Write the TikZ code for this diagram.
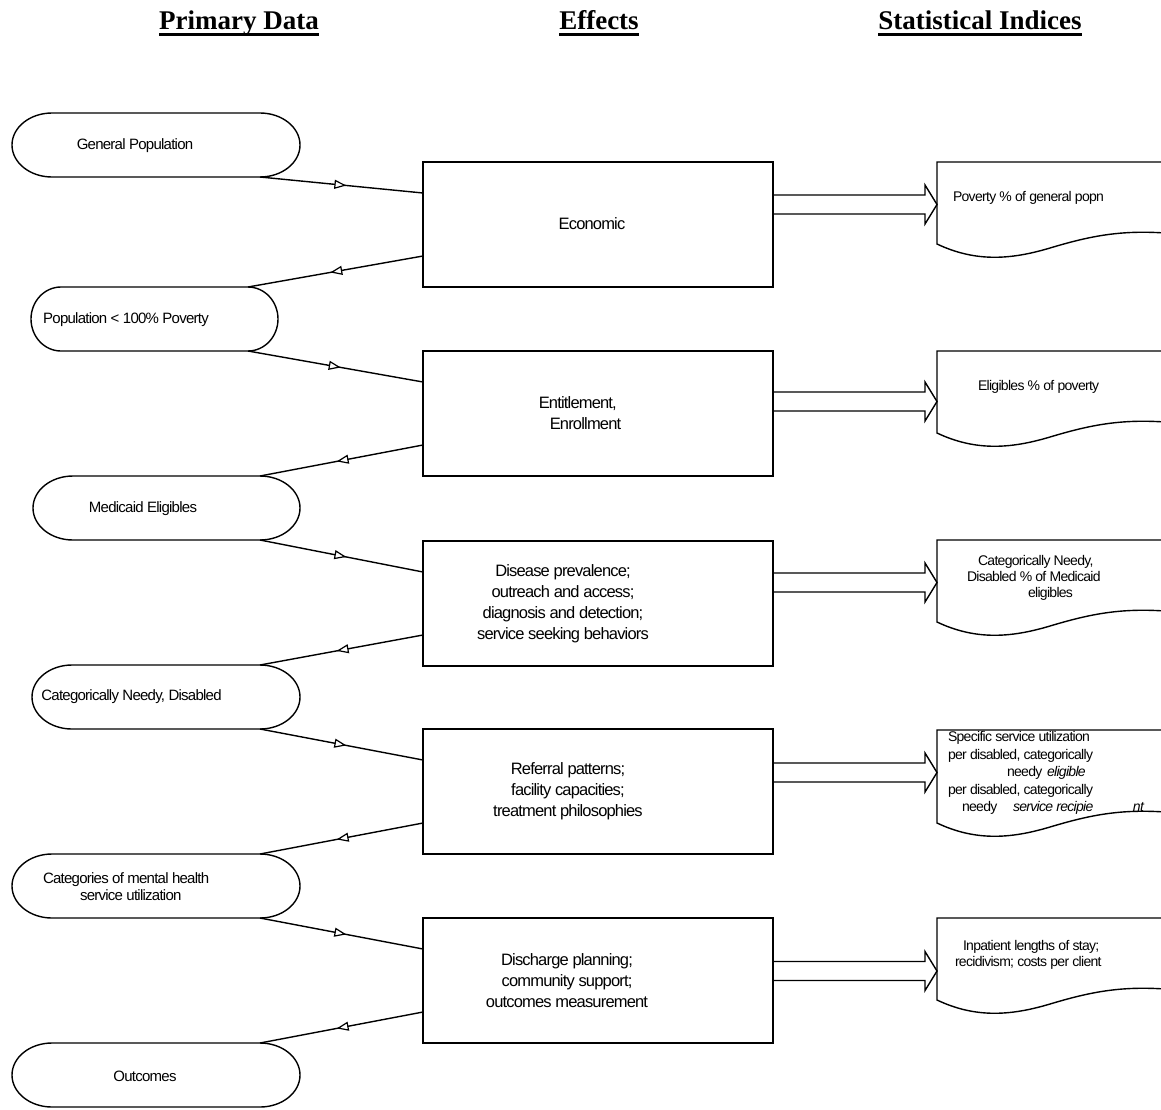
\documentclass[tikz,border=0pt]{standalone}
\usepackage{fontspec}
\setmainfont{Liberation Serif}
\newfontfamily\labelfont[LetterSpace=-5]{Liberation Sans}
\usetikzlibrary{arrows.meta,decorations.markings,calc}
\begin{document}
\begin{tikzpicture}[x=1pt,y=-1pt,
  every node/.style={inner sep=0pt,outer sep=0pt},
  outline/.style={line width=1.4pt,line join=miter},
  heading/.style={font=\fontsize{27}{30}\selectfont\bfseries,anchor=base},
  term/.style={anchor=north west,minimum height=64pt},
  effect/.style={anchor=north west,minimum width=350pt,minimum height=125pt,draw,line width=1.4pt},
  doc/.style={anchor=north west,minimum width=260pt,minimum height=82pt},
  lab/.style={font=\labelfont\fontsize{15}{17}\selectfont},
  boxtext/.style={font=\labelfont\fontsize{16.5}{21}\selectfont,align=center},
  doctext/.style={font=\labelfont\fontsize{14}{16}\selectfont,align=left,anchor=west},
  conn/.style={line width=1.4pt,postaction=decorate,
    decoration={markings,mark=at position 0.53 with
      {\arrow{Triangle[length=12pt,width=9pt,fill=white,line width=1.2pt]}}}}]

\useasboundingbox (0,0) rectangle (1161,1109);
\fill[white] (0,0) rectangle (1161,1109);
\clip (0,0) rectangle (1161,1109);

% column headings
\node[heading] (h1) at (239,29) {Primary Data};
\node[heading] (h2) at (599,29) {Effects};
\node[heading] (h3) at (980,29) {Statistical Indices};
\foreach \h in {h1,h2,h3}
  \draw[line width=3pt] ($(\h.base west)+(0,5)$) -- ($(\h.base east)+(0,5)$);

% primary data terminators
\node[term,minimum width=288pt] (s1) at (12,113) {};
\node[term,minimum width=247pt] (s2) at (31,287) {};
\node[term,minimum width=267pt] (s3) at (33,476) {};
\node[term,minimum width=268pt] (s4) at (32,665) {};
\node[term,minimum width=288pt] (s5) at (12,854) {};
\node[term,minimum width=288pt] (s6) at (12,1043) {};
\foreach \s/\rr in {s1/40pt,s2/30pt,s3/40pt,s4/40pt,s5/40pt,s6/40pt}
  \draw[outline] let \p1=(\s.north west), \p2=(\s.south east), \n1={(\y1-\y2)/2} in
    (\x1+\rr,\y1) -- (\x2-\rr,\y1) coordinate (\s-ne)
    arc[start angle=90,end angle=-90,x radius=\rr,y radius=\n1] coordinate (\s-se)
    -- (\x1+\rr,\y2)
    arc[start angle=270,end angle=90,x radius=\rr,y radius=\n1] -- cycle;

\node[lab] (t1) at (135,146) {General Population};
\node[lab] (t2) at (126,320) {Population < 100\% Poverty};
\node[lab] (t3) at (143,509) {Medicaid Eligibles};
\node[lab] (t4) at (131.5,697) {Categorically Needy, Disabled};
\node[lab,align=left,anchor=west] (t5) at (43,886.5)
  {Categories of mental health\\\hspace*{37pt}service utilization};
\node[lab] (t6) at (145,1076) {Outcomes};

% effect boxes
\node[effect] (econ) at (423,162) {};
\node[effect] (ent) at (423,351) {};
\node[effect] (dis) at (423,541) {};
\node[effect] (ref) at (423,729) {};
\node[effect] (dsc) at (423,918) {};

\node[boxtext] (et) at (592,224) {Economic};
\node[boxtext,align=left] (nt) at (580,413) {Entitlement,\\\hspace*{11pt}Enrollment};
\node[boxtext] (dt) at (563,603.5)
  {Disease prevalence;\\outreach and access;\\diagnosis and detection;\\service seeking behaviors};
\node[boxtext] (rt) at (568,791.5)
  {Referral patterns;\\facility capacities;\\treatment philosophies};
\node[boxtext] (ct) at (567,981)
  {Discharge planning;\\community support;\\outcomes measurement};

% statistical index documents
\node[doc] (d1) at (937,162) {};
\node[doc] (d2) at (937,351) {};
\node[doc] (d3) at (937,540) {};
\node[doc,minimum height=93pt] (d4) at (937,730) {};
\node[doc] (d5) at (937,918) {};
\foreach \dc in {d1,d2,d3,d4,d5}
  \draw[outline] let \p1=(\dc.north west), \p2=(\dc.south west) in
    (\x1+300pt,\y1) -- (\x1,\y1) -- (\x2,\y2)
    .. controls (\x2+38pt,\y2-18pt) and (\x2+73pt,\y2-16pt) .. (\x2+113pt,\y2-4pt)
    .. controls (\x2+153pt,\y2+8pt) and (\x2+183pt,\y2+14pt) .. (\x2+228pt,\y2+11pt)
    -- (\x2+300pt,\y2+11pt);

\node[doctext] (p1) at (953,198) {Poverty \% of general popn};
\node[doctext] (p2) at (978,387) {Eligibles \% of poverty};
\node[doctext] (p3) at (967,577.5)
  {\hspace*{11pt}Categorically Needy,\\Disabled \% of Medicaid\\\hspace*{61pt}eligibles};
\node[doctext,font=\labelfont\fontsize{14}{17.5}\selectfont] (p4) at (948,773)
  {Specific service utilization\\per disabled, categorically\\
   \hspace*{59pt}\rlap{needy}\hspace*{40pt}\textit{eligible}\\
   per disabled, categorically\\
   \hspace*{14pt}\rlap{needy}\hspace*{51pt}\rlap{\textit{service recipie}}\hspace*{120pt}\textit{nt}};
\node[doctext] (p5) at (955,955)
  {\hspace*{8pt}Inpatient lengths of stay;\\recidivism; costs per client};

% block arrows from effects to indices
\foreach \bx/\dc/\m in {econ/d1/204.5,ent/d2/401.5,dis/d3/582.5,ref/d4/772.5,dsc/d5/971}{
  \coordinate (hb) at ($(\dc.west)+(-12,0)$);
  \coordinate (my) at (0,\m);
  \draw[outline] ($(\bx.east |- my)+(0,-9.5)$) -- ($(hb |- my)+(0,-9.5)$)
    -- ($(hb |- my)+(0,-19.5)$) -- (\dc.west |- my) -- ($(hb |- my)+(0,19.5)$)
    -- ($(hb |- my)+(0,9.5)$) -- ($(\bx.east |- my)+(0,9.5)$);
}

% flow between primary data and effects
\foreach \up/\bx/\dn in {s1/econ/s2,s2/ent/s3,s3/dis/s4,s4/ref/s5,s5/dsc/s6}{
  \draw[conn] (\up-se) -- ($(\bx.north west)+(0,31)$);
  \draw[conn] ($(\bx.north west)+(0,94)$) -- (\dn-ne);
}
\end{tikzpicture}
\end{document}
